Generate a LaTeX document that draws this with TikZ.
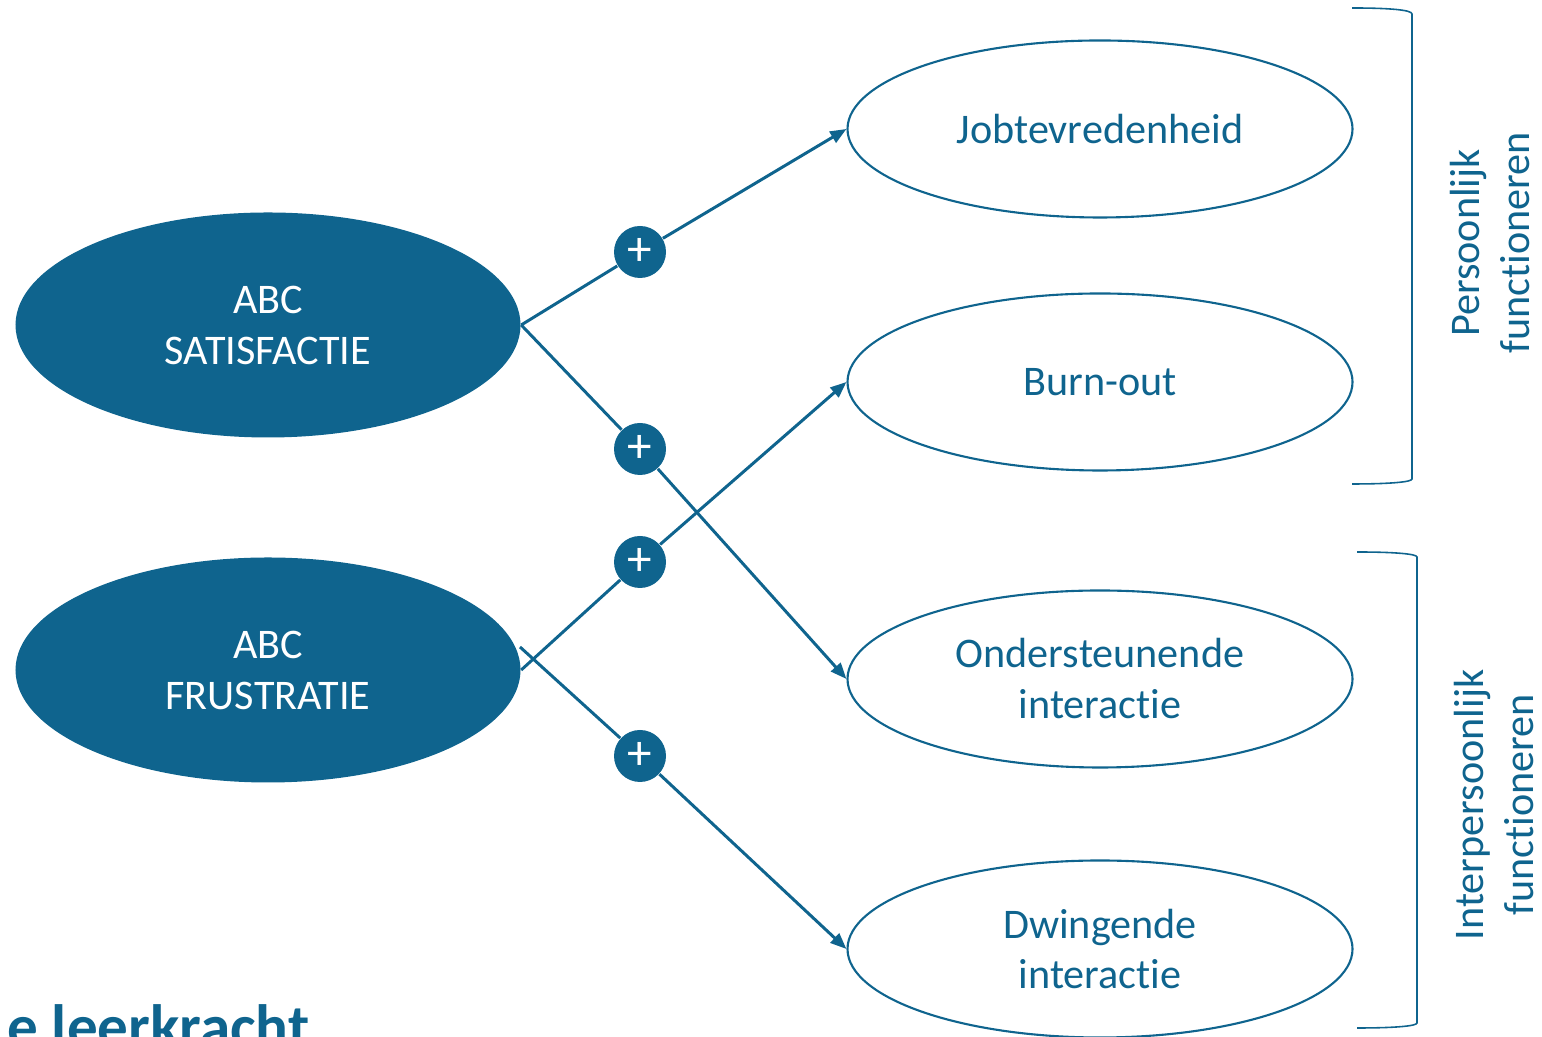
\documentclass[tikz,border=0pt]{standalone}
\usepackage{fontspec}
\setmainfont{Carlito}[Ligatures=NoCommon]
\usepackage{xcolor}
\usepackage{tikz}
\usetikzlibrary{shapes,arrows,arrows.meta}
\definecolor{abcblue}{RGB}{15,100,142}

\begin{document}
\begin{tikzpicture}[
        every node/.style={font=\fontsize{12}{14.5}\selectfont},
        need/.style={ellipse, fill=abcblue, text=white, align=center,
            minimum width=5.05cm, minimum height=2.25cm, inner sep=0pt},
        outcome/.style={ellipse, draw=abcblue, line width=0.6pt, text=abcblue,
            align=center, minimum width=5.05cm, minimum height=1.77cm, inner sep=0pt},
        plus/.style={circle, fill=abcblue, text=white, minimum size=0.52cm, inner sep=0pt,
            font=\fontsize{14}{14}\selectfont},
        effect/.style={draw=abcblue, line width=0.85pt},
        bracket/.style={draw=abcblue, line width=0.45pt},
        side/.style={text=abcblue, align=center, rotate=90}
      ]
      \useasboundingbox (0,0) rectangle (15.42,10.37);
      \clip (0,0) rectangle (15.42,10.37);

      \node[need] (sat) at (2.68,7.12) {ABC\\SATISFACTIE};
      \node[need] (fru) at (2.68,3.67) {ABC\\FRUSTRATIE};

      \node[outcome] (job) at (11.00,9.08) {Jobtevredenheid};
      \node[outcome] (burn) at (11.00,6.55) {Burn-out};
      \node[outcome] (onder) at (11.00,3.58) {Ondersteunende\\interactie};
      \node[outcome] (dwing) at (11.00,0.88) {Dwingende\\interactie};

      \node[plus] (p1) at (6.40,7.85) {+};
      \node[plus] (p2) at (6.40,5.88) {+};
      \node[plus] (p3) at (6.40,4.75) {+};
      \node[plus] (p4) at (6.40,2.81) {+};

      \coordinate (frutick) at (5.20,3.90);

      \draw[effect, -{Triangle[length=4.6pt,width=3.6pt]}] (sat.east) -- (p1) -- (job.west);
      \draw[effect, -{Triangle[length=4.6pt,width=3.6pt]}] (sat.east) -- (p2) -- (onder.west);
      \draw[effect, -{Triangle[length=4.6pt,width=3.6pt]}] (fru.east) -- (p3) -- (burn.west);
      \draw[effect, -{Triangle[length=4.6pt,width=3.6pt]}] (frutick) -- (p4) -- (dwing.west);

      \draw[bracket] (13.52,10.29) .. controls (13.90,10.29) and (14.12,10.27) .. (14.12,10.23)
        -- (14.12,5.58) .. controls (14.12,5.55) and (13.90,5.53) .. (13.52,5.53);
      \draw[bracket] (13.57,4.85) .. controls (13.95,4.85) and (14.17,4.83) .. (14.17,4.80)
        -- (14.17,0.14) .. controls (14.17,0.11) and (13.95,0.09) .. (13.57,0.09);

      \node[side] (pers) at (14.90,7.94) {Persoonlijk\\functioneren};
      \node[side] (inter) at (14.94,2.32) {Interpersoonlijk\\functioneren};

      \node[anchor=base east, text=abcblue, inner sep=0pt,
            font=\fontsize{17.4}{20}\selectfont\bfseries] (title) at (3.10,-0.11) {e leerkracht};
    \end{tikzpicture}
\end{document}
